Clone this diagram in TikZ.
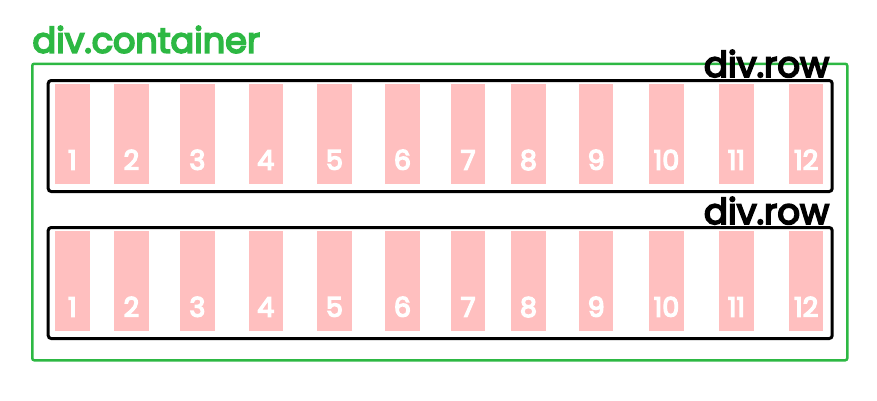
\documentclass[tikz,border=0pt]{standalone}
\usepackage{fontspec}
\setmainfont{Poppins}
\newfontfamily\medfont{Poppins}[FakeBold=5]
\usepackage{xcolor}
\definecolor{boxgreen}{HTML}{2DB843}
\definecolor{colpink}{HTML}{FFBFBF}
\tikzset{
  container/.style={draw=boxgreen,line width=2.5pt,rounded corners=2pt,inner sep=0pt,anchor=north west},
  rowbox/.style={draw=black,line width=3pt,rounded corners=3pt,inner sep=0pt,anchor=north west,minimum width=784pt,minimum height=111pt},
  colbox/.style={fill=colpink,inner sep=0pt,anchor=north west,minimum width=34.5pt,minimum height=100pt},
  colnum/.style={text=white,font=\medfont\fontsize{27}{27}\selectfont,anchor=base},
  tag/.style={font=\medfont\fontsize{35.5}{35.5}\selectfont}
}

\begin{document}
\begin{tikzpicture}[x=1pt,y=-1pt]
  \useasboundingbox (0,0) rectangle (877,400);
  % container
  \node[container,minimum width=815pt,minimum height=296.5pt] (container) at (31,62.5) {};
  \node[tag,text=boxgreen,anchor=base west,font=\medfont\fontsize{35}{35}\selectfont] (ctag) at (29,52.7) {div.container};
  % rows
  \foreach \r/\y in {1/0,2/147}{
    \node[rowbox] (row\r) at (46.7,79+\y) {};
    \node[tag,anchor=base east] (rtag\r) at ([xshift=-1pt,yshift=2pt]row\r.north east) {div.row};
    \foreach \x [count=\i] in {55,114,180,248.3,317,385,450.7,511,578.7,649,719,788.7}{
      \node[colbox] (col-\r-\i) at (\x,83.3+\y) {};
      \node[colnum] (num-\r-\i) at ([yshift=14pt]col-\r-\i.south) {\i};
    }
  }
\end{tikzpicture}
\end{document}
